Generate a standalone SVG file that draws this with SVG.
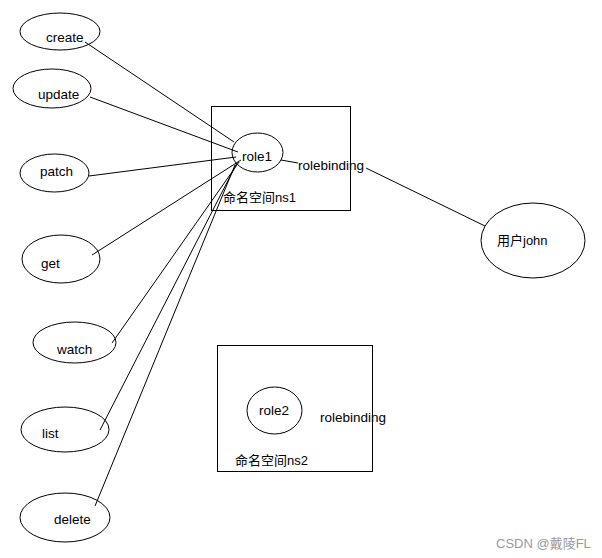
<svg xmlns="http://www.w3.org/2000/svg" width="602" height="558" viewBox="0 0 602 558">
<style>
.n{fill:none;stroke:#000;stroke-width:1}
.t{font-family:"Liberation Sans","Noto Sans CJK SC",sans-serif;font-size:13.5px;fill:#000}
.c{font-family:"Liberation Sans","Noto Sans CJK SC",sans-serif;font-size:13px;fill:#000}
.e{fill:none;stroke:#000;stroke-width:1}
</style>
<rect width="602" height="558" fill="#fff"/>
<g id="ns1"><rect class="n" x="211.5" y="106.5" width="139" height="104"/><text class="c" x="223" y="202">命名空间ns1</text></g>
<g id="ns2"><rect class="n" x="217.5" y="345.5" width="155" height="126"/><text class="c" x="235" y="465">命名空间ns2</text></g>
<g id="connectors">
<line class="e" x1="85" y1="42" x2="234" y2="142"/>
<line class="e" x1="90" y1="97" x2="238" y2="152"/>
<line class="e" x1="89" y1="176" x2="236" y2="157"/>
<line class="e" x1="92" y1="255" x2="241" y2="160"/>
<line class="e" x1="112" y1="343" x2="239" y2="162"/>
<line class="e" x1="100" y1="430" x2="237" y2="163"/>
<line class="e" x1="95" y1="506" x2="235" y2="165"/>
<path class="e" d="M281,160 L298,163 M366,168 L485,226"/>
<text class="t" x="298" y="170">rolebinding</text>
</g>
<g id="create"><ellipse class="n" cx="60" cy="31.5" rx="40" ry="18.5"/><text class="t" x="46" y="42">create</text></g>
<g id="update"><ellipse class="n" cx="52" cy="88.5" rx="39" ry="19.5"/><text class="t" x="38" y="99">update</text></g>
<g id="patch"><ellipse class="n" cx="54.5" cy="173" rx="34.5" ry="19"/><text class="t" x="40" y="176">patch</text></g>
<g id="get"><ellipse class="n" cx="61" cy="259" rx="39" ry="24"/><text class="t" x="41" y="268">get</text></g>
<g id="watch"><ellipse class="n" cx="74.5" cy="342.5" rx="41.5" ry="20.5"/><text class="t" x="57" y="354">watch</text></g>
<g id="list"><ellipse class="n" cx="65" cy="429.5" rx="44" ry="22.5"/><text class="t" x="42" y="438">list</text></g>
<g id="delete"><ellipse class="n" cx="65" cy="517.5" rx="45" ry="24.5"/><text class="t" x="54" y="524">delete</text></g>
<g id="role1"><ellipse class="n" cx="257.5" cy="152.5" rx="25.5" ry="19.5"/><text class="t" x="242" y="161">role1</text></g>
<g id="role2"><ellipse class="n" cx="274.5" cy="410.5" rx="27.5" ry="23.5"/><text class="t" x="259" y="415">role2</text></g>
<g id="rolebinding2"><text class="t" x="320" y="422">rolebinding</text></g>
<g id="john"><ellipse class="n" cx="533" cy="240.5" rx="52" ry="37.5"/><text class="c" x="497" y="245">用户john</text></g>
<text x="496" y="548" font-family="Liberation Sans,Noto Sans CJK SC,sans-serif" font-size="13" fill="#999">CSDN @戴陵FL</text>
</svg>
